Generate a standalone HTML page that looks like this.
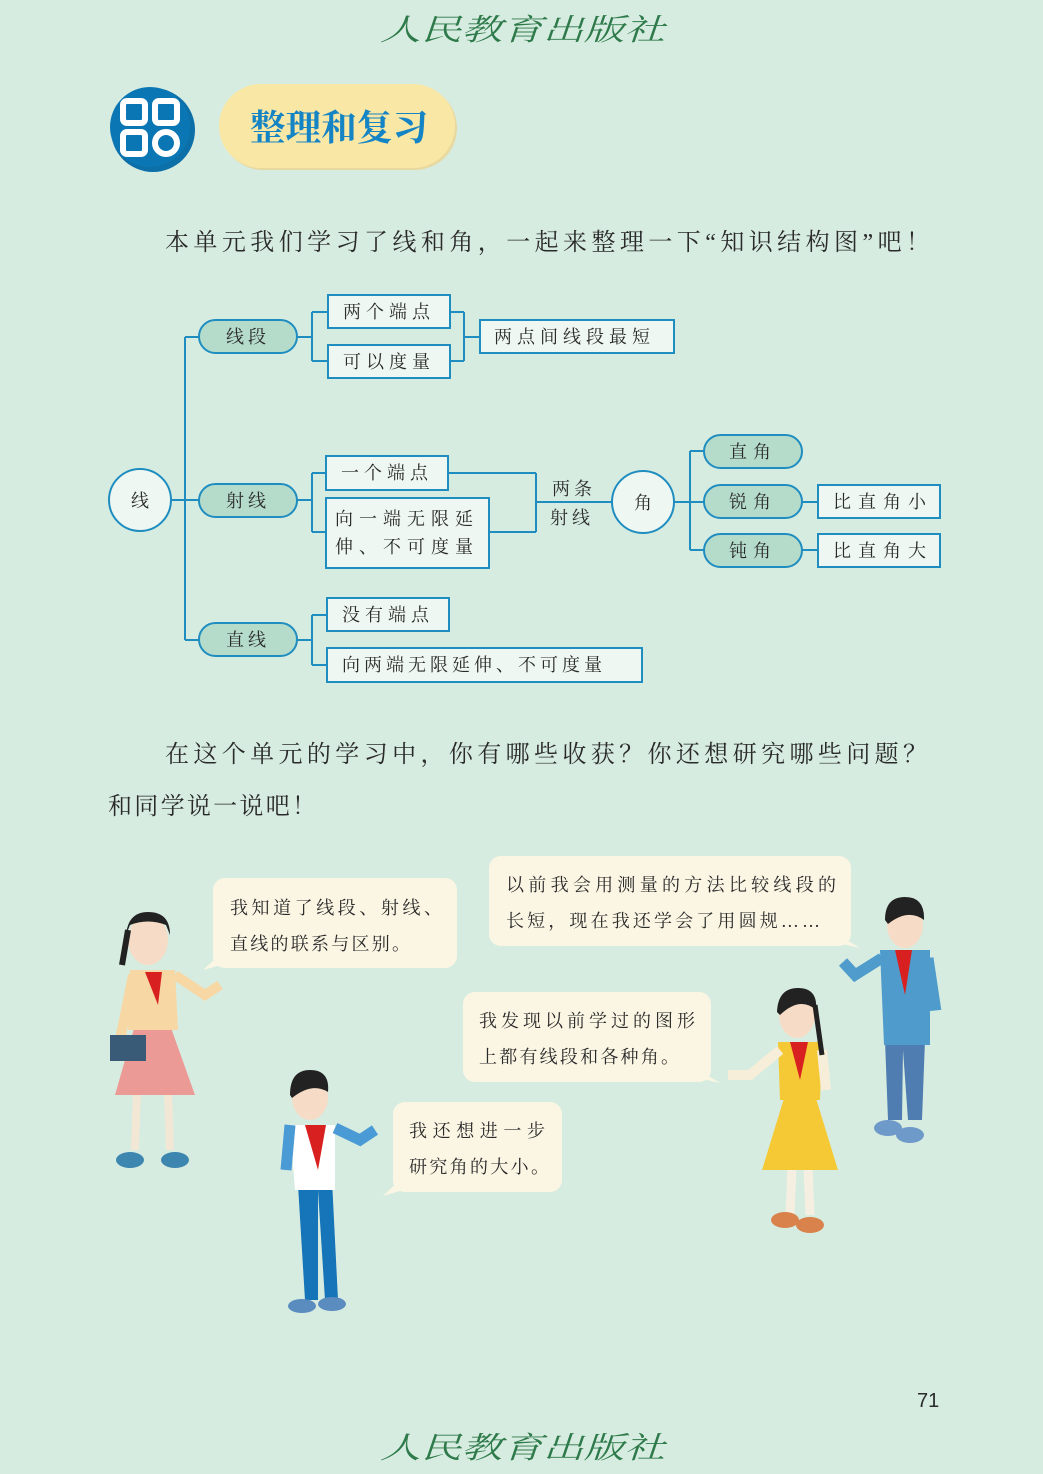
<!DOCTYPE html>
<html><head><meta charset="utf-8"><style>
html,body{margin:0;padding:0;background:#d7ece0;}
svg{display:block;}
text{font-family:"Liberation Serif","Noto Serif CJK SC","Noto Sans CJK SC",serif;fill:#2a2a2a;}
.k{font-family:"Liberation Serif","Noto Serif CJK SC",serif;font-size:18px;}
.ln{stroke:#1f8dc0;stroke-width:2;fill:none;}
.bx{fill:#eef7f1;stroke:#1f8dc0;stroke-width:2;}
.pl{fill:#b5dccb;stroke:#1f8dc0;stroke-width:2;}
.bb{fill:#fbf6e4;}
.logo{fill:#2e7a4a;font-family:"Noto Serif CJK SC",serif;font-size:30px;font-style:italic;}
</style></head><body>
<svg width="1043" height="1474" viewBox="0 0 1043 1474" xmlns="http://www.w3.org/2000/svg">
<rect width="1043" height="1474" fill="#d7ece0"/>
<text class="logo" x="380" y="40" textLength="285" lengthAdjust="spacingAndGlyphs">人民教育出版社</text>
<text class="logo" x="380" y="1458" textLength="285" lengthAdjust="spacingAndGlyphs">人民教育出版社</text>

<!-- header icon -->
<circle cx="153" cy="130" r="42" fill="#0d6fa8"/>
<circle cx="150" cy="127" r="40" fill="#0a77b4"/>
<rect x="123" y="101" width="22" height="22" rx="4" fill="none" stroke="#fff" stroke-width="6"/>
<rect x="155" y="101" width="22" height="22" rx="4" fill="none" stroke="#fff" stroke-width="6"/>
<rect x="123" y="132" width="22" height="22" rx="4" fill="none" stroke="#fff" stroke-width="6"/>
<circle cx="166" cy="143" r="11" fill="none" stroke="#fff" stroke-width="6"/>
<rect x="221" y="86" width="236" height="84" rx="42" fill="#e8d9a0"/>
<rect x="219" y="84" width="236" height="84" rx="42" fill="#f9e7a6"/>
<text x="250" y="140" font-size="36" style="fill:#1584c4;font-family:'Noto Serif CJK SC',serif;font-weight:bold" textLength="178" lengthAdjust="spacingAndGlyphs">整理和复习</text>

<text x="165" y="250" font-size="24" textLength="765" lengthAdjust="spacing">本单元我们学习了线和角，一起来整理一下“知识结构图”吧！</text>

<!-- diagram lines -->
<path class="ln" d="M171 500H185M185 337V640M185 337H199M185 500H199M185 640H199"/>
<path class="ln" d="M297 337H312M312 312V361M312 312H328M312 361H328M450 312H464M450 361H464M464 312V361M464 337H480"/>
<path class="ln" d="M297 500H312M312 473V532M312 473H326M312 532H326M448 473H536M489 532H536M536 473V532M536 502H612"/>
<path class="ln" d="M297 640H312M312 615V665M312 615H327M312 665H327"/>
<path class="ln" d="M674 502H690M690 451V550M690 451H704M690 550H704M690 502H704M802 502H818M802 550H818"/>

<circle cx="140" cy="500" r="31" fill="#eef7f1" stroke="#1f8dc0" stroke-width="2"/>
<text x="140" y="507" class="k" text-anchor="middle">线</text>
<circle cx="643" cy="502" r="31" fill="#eef7f1" stroke="#1f8dc0" stroke-width="2"/>
<text x="643" y="509" class="k" text-anchor="middle">角</text>

<rect class="pl" x="199" y="320" width="98" height="33" rx="16.5"/>
<text x="248" y="343" class="k" text-anchor="middle" letter-spacing="4">线段</text>
<rect class="pl" x="199" y="484" width="98" height="33" rx="16.5"/>
<text x="248" y="507" class="k" text-anchor="middle" letter-spacing="4" font-size="20">射线</text>
<rect class="pl" x="199" y="623" width="98" height="33" rx="16.5"/>
<text x="248" y="646" class="k" text-anchor="middle" letter-spacing="4">直线</text>

<rect class="bx" x="328" y="295" width="122" height="33"/>
<text x="343" y="318" class="k" letter-spacing="5">两个端点</text>
<rect class="bx" x="328" y="345" width="122" height="33"/>
<text x="343" y="368" class="k" letter-spacing="5">可以度量</text>
<rect class="bx" x="480" y="320" width="194" height="33"/>
<text x="494" y="343" class="k" letter-spacing="5">两点间线段最短</text>

<rect class="bx" x="326" y="456" width="122" height="34"/>
<text x="341" y="479" class="k" letter-spacing="5">一个端点</text>
<rect class="bx" x="326" y="498" width="163" height="70"/>
<text x="335" y="525" class="k" letter-spacing="6">向一端无限延</text>
<text x="335" y="553" class="k" letter-spacing="6">伸、不可度量</text>
<text x="552" y="495" class="k" letter-spacing="4">两条</text>
<text x="550" y="524" class="k" letter-spacing="4" font-size="20">射线</text>

<rect class="bx" x="327" y="598" width="122" height="33"/>
<text x="342" y="621" class="k" letter-spacing="5">没有端点</text>
<rect class="bx" x="327" y="648" width="315" height="34"/>
<text x="342" y="671" class="k" letter-spacing="4">向两端无限延伸、不可度量</text>

<rect class="pl" x="704" y="435" width="98" height="33" rx="16.5"/>
<text x="753" y="458" class="k" text-anchor="middle" letter-spacing="6">直角</text>
<rect class="pl" x="704" y="485" width="98" height="33" rx="16.5"/>
<text x="753" y="508" class="k" text-anchor="middle" letter-spacing="6">锐角</text>
<rect class="pl" x="704" y="534" width="98" height="33" rx="16.5"/>
<text x="753" y="557" class="k" text-anchor="middle" letter-spacing="6">钝角</text>
<rect class="bx" x="818" y="485" width="122" height="33"/>
<text x="833" y="508" class="k" letter-spacing="7">比直角小</text>
<rect class="bx" x="818" y="534" width="122" height="33"/>
<text x="833" y="557" class="k" letter-spacing="7">比直角大</text>

<text x="165" y="762" font-size="24" textLength="762" lengthAdjust="spacing">在这个单元的学习中，你有哪些收获？你还想研究哪些问题？</text>
<text x="108" y="814" font-size="24" textLength="208" lengthAdjust="spacing">和同学说一说吧！</text>

<!-- bubbles -->
<g class="bb">
<rect x="213" y="878" width="244" height="90" rx="12"/><path d="M225 950L203 970L240 960Z"/>
<rect x="489" y="856" width="362" height="90" rx="12"/><path d="M830 930L860 948L825 940Z"/>
<rect x="463" y="992" width="248" height="90" rx="12"/><path d="M690 1065L720 1083L685 1075Z"/>
<rect x="393" y="1102" width="169" height="90" rx="12"/><path d="M405 1175L383 1196L420 1185Z"/>
</g>
<g font-size="18">
<text x="230" y="914" textLength="212" lengthAdjust="spacing">我知道了线段、射线、</text>
<text x="230" y="950" textLength="180" lengthAdjust="spacing">直线的联系与区别。</text>
<text x="506" y="891" textLength="330" lengthAdjust="spacing">以前我会用测量的方法比较线段的</text>
<text x="506" y="927" textLength="314" lengthAdjust="spacing">长短，现在我还学会了用圆规……</text>
<text x="479" y="1027" textLength="216" lengthAdjust="spacing">我发现以前学过的图形</text>
<text x="479" y="1063" textLength="200" lengthAdjust="spacing">上都有线段和各种角。</text>
<text x="409" y="1137" textLength="136" lengthAdjust="spacing">我还想进一步</text>
<text x="409" y="1173" textLength="140" lengthAdjust="spacing">研究角的大小。</text>
</g>

<!-- girl left -->
<g>
<line x1="137" y1="1090" x2="135" y2="1150" stroke="#f2e6d4" stroke-width="8"/>
<line x1="168" y1="1090" x2="170" y2="1150" stroke="#f2e6d4" stroke-width="8"/>
<ellipse cx="130" cy="1160" rx="14" ry="8" fill="#3d86b0"/><ellipse cx="175" cy="1160" rx="14" ry="8" fill="#3d86b0"/>
<path d="M135 1025L170 1025L195 1095L115 1095Z" fill="#ec9a96"/>
<path d="M130 970L175 970L178 1030L128 1030Z" fill="#f7d7a4"/>
<path d="M175 975L205 995L220 985" stroke="#f7d7a4" stroke-width="10" fill="none"/>
<path d="M133 975L120 1040" stroke="#f7d7a4" stroke-width="10" fill="none"/>
<rect x="110" y="1035" width="36" height="26" fill="#3a5b78"/>
<path d="M145 972L158 1005L162 972Z" fill="#d92020"/>
<ellipse cx="148" cy="940" rx="20" ry="25" fill="#f6dcc6"/>
<path d="M126 935Q128 912 148 912Q170 912 170 935L166 925Q148 918 130 925Z" fill="#222"/>
<path d="M128 930L122 965" stroke="#222" stroke-width="6"/>
</g>
<!-- boy middle -->
<g>
<path d="M298 1185L305 1300L318 1300L318 1190L325 1300L338 1300L332 1180Z" fill="#1674b8"/>
<ellipse cx="302" cy="1306" rx="14" ry="7" fill="#5a8cc0"/><ellipse cx="332" cy="1304" rx="14" ry="7" fill="#5a8cc0"/>
<path d="M290 1125L335 1125L335 1190L295 1190Z" fill="#fff"/>
<path d="M290 1125L286 1170M335 1128L360 1140L375 1130" stroke="#4a9ad6" stroke-width="11" fill="none"/>
<path d="M305 1125L318 1170L326 1125Z" fill="#d92020"/>
<ellipse cx="310" cy="1098" rx="18" ry="22" fill="#f6dcc6"/>
<path d="M290 1095Q290 1070 310 1070Q330 1070 328 1092Q312 1082 292 1098Z" fill="#222"/>
</g>
<!-- girl right -->
<g>
<line x1="792" y1="1165" x2="790" y2="1215" stroke="#f4efe0" stroke-width="9"/>
<line x1="808" y1="1165" x2="810" y2="1215" stroke="#f4efe0" stroke-width="9"/>
<ellipse cx="785" cy="1220" rx="14" ry="8" fill="#d9824c"/><ellipse cx="810" cy="1225" rx="14" ry="8" fill="#d9824c"/>
<path d="M785 1095L815 1095L838 1170L762 1170Z" fill="#f5c935"/>
<path d="M778 1042L822 1042L820 1100L780 1100Z" fill="#f5c935"/>
<path d="M780 1050L750 1075L728 1075" stroke="#f6eed8" stroke-width="10" fill="none"/>
<path d="M822 1050L826 1090" stroke="#f6eed8" stroke-width="10" fill="none"/>
<path d="M790 1042L800 1080L808 1042Z" fill="#d92020"/>
<ellipse cx="797" cy="1015" rx="18" ry="23" fill="#f6dcc6"/>
<path d="M777 1012Q778 988 798 988Q818 988 816 1010Q800 996 780 1015Z" fill="#222"/>
<path d="M815 1005L822 1055" stroke="#222" stroke-width="5"/>
</g>
<!-- boy right -->
<g>
<path d="M885 1040L888 1120L902 1120L903 1050L908 1120L922 1120L925 1040Z" fill="#4f7db1"/>
<ellipse cx="888" cy="1128" rx="14" ry="8" fill="#6e9ac9"/><ellipse cx="910" cy="1135" rx="14" ry="8" fill="#6e9ac9"/>
<path d="M880 950L930 950L930 1045L884 1045Z" fill="#4f9ccc"/>
<path d="M882 958L855 975L843 962M928 958L935 1005L885 1010" stroke="#4f9ccc" stroke-width="11" fill="none"/>
<path d="M895 950L905 995L912 950Z" fill="#d92020"/>
<ellipse cx="905" cy="925" rx="18" ry="23" fill="#f6dcc6"/>
<path d="M885 920Q885 897 905 897Q925 897 924 920Q908 908 888 924Z" fill="#222"/>
</g>

<text x="917" y="1407" font-size="20" style="font-family:'Liberation Sans',sans-serif">71</text>
</svg>
</body></html>
